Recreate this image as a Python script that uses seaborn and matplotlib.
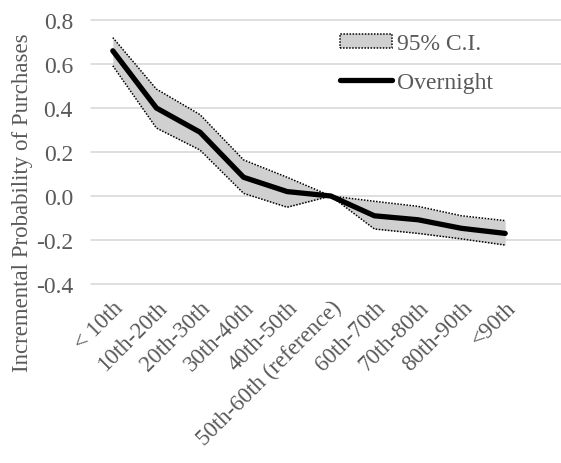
import matplotlib
matplotlib.use("Agg")
import matplotlib.pyplot as plt
import seaborn as sns
import pandas as pd
from matplotlib.patches import Patch
from matplotlib.lines import Line2D

categories = ["< 10th", "10th-20th", "20th-30th", "30th-40th", "40th-50th",
              "50th-60th (reference)", "60th-70th", "70th-80th", "80th-90th", "<90th"]
overnight = [0.66, 0.40, 0.29, 0.085, 0.02, 0.0, -0.09, -0.108, -0.147, -0.17]
ci_upper = [0.72, 0.486, 0.37, 0.164, 0.085, 0.0, -0.024, -0.047, -0.09, -0.112]
ci_lower = [0.592, 0.309, 0.209, 0.012, -0.051, 0.0, -0.15, -0.17, -0.195, -0.223]
yticks = [-0.4, -0.2, 0.0, 0.2, 0.4, 0.6, 0.8]

df = pd.DataFrame({"cat": categories, "mean": overnight,
                   "lo": ci_lower, "hi": ci_upper})

sns.set_theme(style="white")
plt.rcParams["font.family"] = ["Liberation Serif", "DejaVu Serif"]
text_color = "#595959"

fig = plt.figure(figsize=(5.61, 4.64), dpi=100)
ax = fig.add_axes([91 / 561, 1 - 285 / 464, 1 - 91 / 561, (285 - 21) / 464])

x = list(range(len(categories)))
ax.fill_between(x, df["lo"], df["hi"], color="#d0d0d0", linewidth=0, zorder=2)
sns.lineplot(x=x, y=df["hi"], ax=ax, color="black", linestyle=(0, (1, 1)),
             linewidth=1.1, zorder=3)
sns.lineplot(x=x, y=df["lo"], ax=ax, color="black", linestyle=(0, (1, 1)),
             linewidth=1.1, zorder=3)
sns.lineplot(x=x, y=df["mean"], ax=ax, color="black", linewidth=3.8,
             solid_capstyle="round", solid_joinstyle="round", zorder=4)

ax.set_xlim(-0.5, (561 - 91) / 43.6 - 0.5)
ax.set_ylim(-0.4, 0.8)
ax.set_yticks(yticks)
ax.set_yticklabels([f"{v:.1f}" for v in yticks], fontsize=17, color=text_color)
ax.set_xticks(x)
ax.set_xticklabels(categories, rotation=45, ha="right", va="top",
                   rotation_mode="anchor", fontsize=16.5, color=text_color)
ax.tick_params(axis="y", length=0, pad=13)
ax.tick_params(axis="x", length=0, pad=9)
ax.grid(axis="y", color="#d9d9d9", linewidth=1.2, zorder=0)
ax.set_axisbelow(True)
for s in ax.spines.values():
    s.set_visible(False)
ax.set_xlabel("")
ax.set_ylabel("Incremental Probability of Purchases", fontsize=16.5,
              color=text_color)
ax.yaxis.set_label_coords((33 - 91) / 470, (285 - 203) / 264)
for line in ax.get_ygridlines():
    line.set_clip_on(False)

handles = [Patch(facecolor="#d0d0d0", edgecolor="black", linestyle=(0, (1, 1)),
                 linewidth=1.1, label="95% C.I."),
           Line2D([0], [0], color="black", linewidth=3.8, solid_capstyle="round",
                  label="Overnight")]
leg = ax.legend(handles=handles, loc="upper left",
                bbox_to_anchor=((340 - 91) / 470, (285 - 34) / 264),
                frameon=False, fontsize=17, handlelength=2.2, handletextpad=0.2,
                handleheight=0.55, labelspacing=0.75, borderaxespad=0, borderpad=0)
for t in leg.get_texts():
    t.set_color(text_color)

fig.savefig("out.png", dpi=100)
